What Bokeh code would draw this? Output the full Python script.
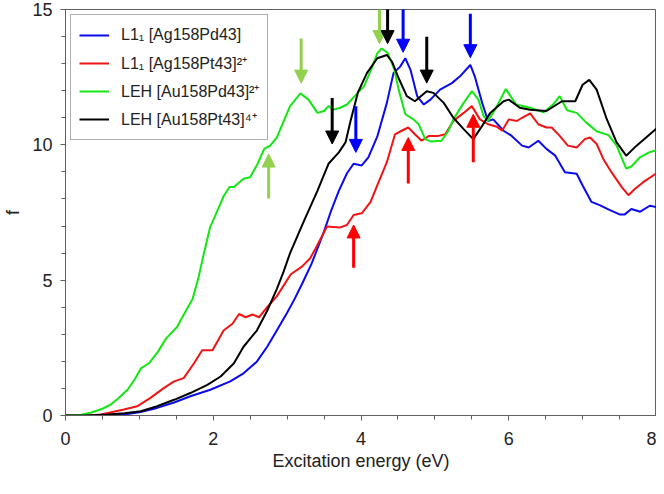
from bokeh.plotting import figure
from bokeh.models import Range1d, FixedTicker, Legend, LegendItem, Arrow, NormalHead
from bokeh.embed import file_html
from bokeh.resources import INLINE

# ---- data ----
blue_x = [0, 0.4, 0.79, 1.0, 1.24, 1.47, 1.69, 1.96, 2.23, 2.41, 2.59, 2.73, 2.86, 3.0, 3.1, 3.2,
          3.33, 3.5, 3.6, 3.7, 3.81, 3.9, 4.01, 4.1, 4.22, 4.35, 4.44, 4.53, 4.6, 4.67, 4.76,
          4.85, 4.94, 5.07, 5.23, 5.34, 5.48, 5.54, 5.64, 5.72, 5.79, 5.93, 6.04, 6.18, 6.27,
          6.4, 6.51, 6.63, 6.76, 6.92, 7.0, 7.12, 7.23, 7.37, 7.5, 7.57, 7.66, 7.78, 7.91, 8.0]
blue_y = [0, 0.0, 0.04, 0.12, 0.28, 0.48, 0.71, 0.95, 1.26, 1.56, 1.99, 2.54, 3.14, 3.8, 4.3, 4.85,
          5.6, 6.8, 7.6, 8.3, 8.95, 9.3, 9.24, 9.54, 10.3, 11.55, 12.65, 12.89, 13.2, 12.77, 11.8,
          11.49, 11.67, 12.04, 12.28, 12.53, 12.95, 12.53, 11.55, 10.88, 10.94, 10.52, 10.33, 9.97, 9.9,
          10.15, 9.85, 9.6, 8.99, 8.93, 8.5, 7.89, 7.77, 7.59, 7.43, 7.43, 7.63, 7.53, 7.75, 7.7]

red_x = [0, 0.3, 0.48, 0.79, 0.97, 1.15, 1.33, 1.47, 1.6, 1.74, 1.85, 1.99, 2.14, 2.26, 2.35,
         2.44, 2.53, 2.62, 2.73, 2.86, 3.05, 3.2, 3.31, 3.41, 3.54, 3.72, 3.81, 3.9, 4.01, 4.13,
         4.22, 4.35, 4.46, 4.55, 4.64, 4.73, 4.82, 4.92, 5.05, 5.14, 5.25, 5.39, 5.5, 5.61, 5.72,
         5.84, 5.91, 6.0, 6.11, 6.18, 6.29, 6.4, 6.51, 6.58, 6.69, 6.8, 6.92, 7.03, 7.1, 7.19,
         7.28, 7.39, 7.53, 7.62, 7.71, 7.82, 8.0]
red_y = [0, 0.0, 0.04, 0.22, 0.34, 0.65, 1.01, 1.26, 1.38, 1.93, 2.41, 2.41, 3.14, 3.39, 3.75,
         3.63, 3.73, 3.63, 4.0, 4.4, 5.22, 5.5, 5.8, 6.3, 6.98, 6.95, 7.04, 7.41, 7.47, 7.89,
         8.5, 9.36, 10.39, 10.52, 10.64, 10.39, 10.15, 10.33, 10.33, 10.39, 10.88, 11.18, 11.43, 10.94, 10.76,
         10.67, 10.52, 10.94, 10.88, 11.0, 11.16, 10.76, 10.64, 10.64, 10.33, 9.97, 9.9, 10.21, 10.27, 10.03,
         9.48, 8.99, 8.44, 8.14, 8.38, 8.62, 8.95]

green_x = [0, 0.2, 0.34, 0.5, 0.61, 0.72, 0.84, 0.94, 1.02, 1.13, 1.25, 1.36, 1.51, 1.63, 1.72,
           1.8, 1.87, 1.96, 2.03, 2.14, 2.22, 2.28, 2.41, 2.5, 2.6, 2.69, 2.77, 2.86, 2.95, 3.04,
           3.18, 3.29, 3.41, 3.5, 3.56, 3.63, 3.72, 3.81, 3.95, 4.04, 4.14, 4.22, 4.28, 4.36, 4.45,
           4.51, 4.6, 4.71, 4.78, 4.87, 4.95, 5.09, 5.18, 5.25, 5.39, 5.5, 5.59, 5.66, 5.72, 5.84,
           5.96, 6.1, 6.29, 6.47, 6.6, 6.69, 6.79, 6.92, 7.05, 7.19, 7.35, 7.46, 7.59, 7.66, 7.78,
           7.9, 8.0]
green_y = [0, 0.02, 0.1, 0.25, 0.4, 0.65, 0.95, 1.35, 1.74, 1.93, 2.35, 2.84, 3.27, 3.87, 4.3,
           5.1, 5.95, 6.98, 7.4, 8.1, 8.44, 8.44, 8.75, 8.8, 9.3, 9.85, 9.97, 10.27, 10.85, 11.43,
           11.9, 11.67, 11.18, 11.25, 11.43, 11.3, 11.37, 11.49, 11.9, 12.16, 12.8, 13.38, 13.56, 13.4, 12.8,
           12.04, 11.13, 10.94, 10.76, 10.21, 10.12, 10.15, 10.5, 10.94, 11.55, 11.98, 11.67, 11.06, 10.88, 11.43,
           12.06, 11.49, 11.37, 11.2, 11.49, 11.8, 11.28, 11.18, 10.82, 10.5, 10.36, 9.97, 9.12, 9.2, 9.55,
           9.72, 9.8]

black_x = [0, 0.3, 0.57, 0.8, 1.02, 1.24, 1.47, 1.69, 1.92, 2.1, 2.28, 2.41, 2.59, 2.73, 2.86,
           2.95, 3.04, 3.23, 3.41, 3.56, 3.7, 3.79, 3.86, 3.96, 4.08, 4.22, 4.35, 4.42, 4.51, 4.62,
           4.73, 4.89, 4.98, 5.12, 5.25, 5.39, 5.52, 5.64, 5.75, 5.93, 6.0, 6.15, 6.29, 6.51, 6.72,
           6.9, 7.0, 7.09, 7.19, 7.32, 7.46, 7.59, 7.73, 7.86, 8.0]
black_y = [0, 0.0, 0.04, 0.08, 0.16, 0.34, 0.58, 0.83, 1.13, 1.44, 1.93, 2.54, 3.14, 3.87, 4.67,
           5.3, 6.0, 7.2, 8.3, 9.3, 9.72, 10.09, 10.9, 11.95, 12.65, 13.2, 13.32, 13.07, 12.46, 11.8,
           11.61, 11.98, 11.92, 11.55, 11.0, 10.58, 10.21, 10.7, 11.18, 11.61, 11.67, 11.37, 11.3, 11.25, 11.61,
           11.61, 12.22, 12.4, 12.04, 11.0, 10.09, 9.6, 9.97, 10.27, 10.6]

series_labels = ["L1\u2081 [Ag158Pd43]", "L1\u2081 [Ag158Pt43]\u00b2\u207a",
                 "LEH [Au158Pd43]\u00b2\u207a", "LEH [Au158Pt43]\u2074\u207a"]
series_colors = ["#0a0af0", "#f01414", "#14e614", "#000000"]

# arrows: x position, start f, tip f, colour
arrow_x = [2.75, 3.19, 3.61, 3.93, 3.90, 4.25, 4.36, 4.57, 4.89, 4.64, 5.48, 5.52]
arrow_y0 = [8.02, 13.93, 11.73, 11.43, 5.46, 15.6, 15.6, 15.08, 13.99, 8.57, 14.84, 9.36]
arrow_y1 = [9.66, 12.28, 10.03, 9.72, 7.04, 13.74, 13.74, 13.42, 12.28, 10.27, 13.22, 11.13]
arrow_colors = ["#92d050", "#92d050", "#000000", "#0000ff", "#ff0000", "#92d050",
                "#000000", "#0000ff", "#000000", "#ff0000", "#0000ff", "#ff0000"]

x_ticks = [0, 2, 4, 6, 8]
x_minor = [0.5 * i for i in range(17)]
y_ticks = [0, 5, 10, 15]
y_minor = list(range(16))

FONT = "Liberation Sans"
TXT = "#222222"
AX = "#606060"

p = figure(width=656, height=478, x_range=Range1d(0, 8), y_range=Range1d(0, 15),
           output_backend="svg", toolbar_location=None,
           min_border_left=60, min_border_right=0, min_border_top=9, min_border_bottom=63)
p.xgrid.visible = False
p.ygrid.visible = False
p.outline_line_color = AX
p.outline_line_width = 1
p.background_fill_color = "white"
p.border_fill_color = "white"

xs = [blue_x, red_x, green_x, black_x]
ys = [blue_y, red_y, green_y, black_y]
items = []
for x, y, c, lab in zip(xs, ys, series_colors, series_labels):
    r = p.line(x, y, line_color=c, line_width=2)
    items.append(LegendItem(label=lab, renderers=[r]))

for ax_, yv0, yv1, c in zip(arrow_x, arrow_y0, arrow_y1, arrow_colors):
    p.add_layout(Arrow(x_start=ax_, y_start=yv0, x_end=ax_, y_end=yv1,
                       line_color=c, line_width=3,
                       end=NormalHead(size=13, fill_color=c, line_color=c, line_width=1)))

leg = Legend(items=items, location="top_left", margin=5, padding=8,
             spacing=4, label_height=24, glyph_height=24, glyph_width=30,
             label_standoff=12, label_text_font=FONT, label_text_font_size="16px",
             label_text_color=TXT, border_line_color=AX, border_line_width=1,
             background_fill_color="white", background_fill_alpha=1.0)
p.add_layout(leg)

p.xaxis.ticker = FixedTicker(ticks=x_ticks, minor_ticks=x_minor)
p.yaxis.ticker = FixedTicker(ticks=y_ticks, minor_ticks=y_minor)
p.xaxis.axis_label = "Excitation energy (eV)"
p.yaxis.axis_label = "f"
for axis in (p.xaxis, p.yaxis):
    axis.axis_line_color = AX
    axis.major_tick_line_color = AX
    axis.minor_tick_line_color = AX
    axis.major_tick_in = 0
    axis.major_tick_out = 5
    axis.minor_tick_in = 0
    axis.minor_tick_out = 4
    axis.major_label_text_font = FONT
    axis.major_label_text_font_size = "18px"
    axis.major_label_text_color = TXT
    axis.axis_label_text_font = FONT
    axis.axis_label_text_font_size = "18px"
    axis.axis_label_text_font_style = "normal"
    axis.axis_label_text_color = TXT
p.xaxis.major_label_standoff = 11
p.xaxis.axis_label_standoff = 3
p.yaxis.major_label_standoff = 8
p.yaxis.axis_label_standoff = 6

open("out.html", "w").write(file_html(p, INLINE))
